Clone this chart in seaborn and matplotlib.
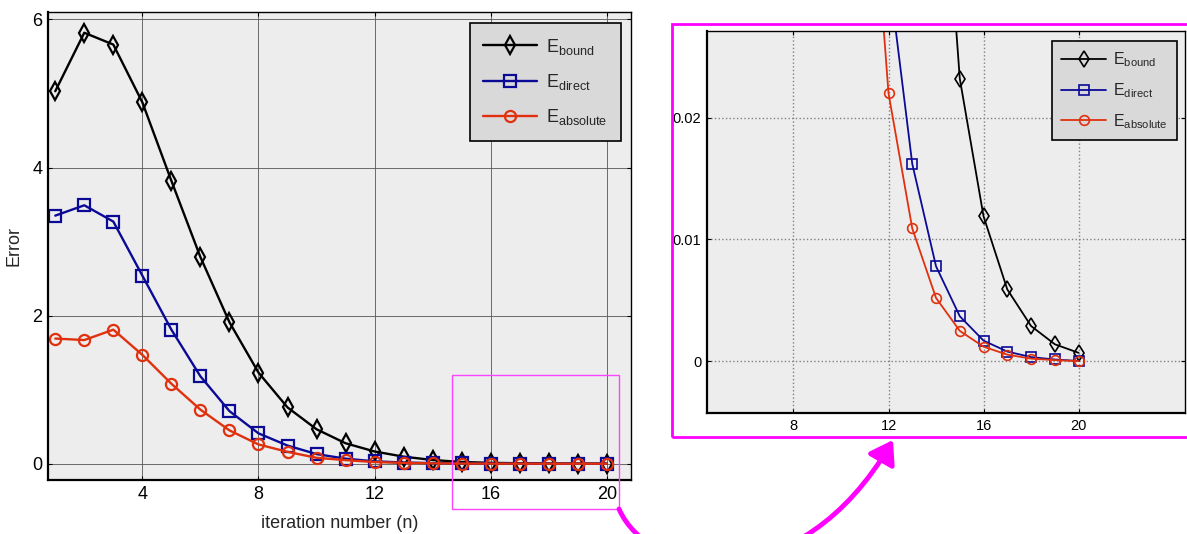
import numpy as np
import matplotlib
matplotlib.use('Agg')
import matplotlib.pyplot as plt
import seaborn as sns
from matplotlib.patches import Rectangle, FancyArrowPatch
from matplotlib.path import Path

# ── Data ─────────────────────────────────────────────────────────────────────
n_iter = list(range(1, 21))
e_bound = [5.03, 5.82, 5.66, 4.88, 3.82, 2.79, 1.91, 1.23, 0.76, 0.465,
           0.276, 0.165, 0.095, 0.050, 0.0232, 0.0119, 0.0059, 0.0029,
           0.0014, 0.0007]
e_direct = [3.35, 3.49, 3.27, 2.54, 1.81, 1.18, 0.71, 0.41, 0.245, 0.13,
            0.068, 0.032, 0.0162, 0.0078, 0.0037, 0.0017, 0.0008, 0.00035,
            0.00015, 0.00003]
e_absolute = [1.69, 1.67, 1.81, 1.47, 1.08, 0.73, 0.45, 0.26, 0.16, 0.08,
              0.048, 0.022, 0.0109, 0.0052, 0.0025, 0.0012, 0.00055, 0.00022,
              0.0001, 0.00002]
labels = [r'$\mathregular{E_{bound}}$', r'$\mathregular{E_{direct}}$',
          r'$\mathregular{E_{absolute}}$']

main_xticks = [4, 8, 12, 16, 20]
main_yticks = [0, 2, 4, 6]
zoom_xticks = [8, 12, 16, 20]
zoom_yticks = [0, 0.01, 0.02]
zoom_yticklabels = ['0', '0.01', '0.02']

# ── Style ───────────────────────────────────────────────────────────────────
COLORS = {'bound': '#000000', 'direct': '#0A0A96', 'absolute': '#E0300E'}
MAGENTA = '#FF00FF'
AX_BG = '#EDEDED'
LEG_BG = '#D9D9D9'

sns.set_style('ticks')
plt.rcParams['font.family'] = ['Liberation Sans Narrow', 'Liberation Sans', 'DejaVu Sans']
plt.rcParams['mathtext.default'] = 'regular'

W, H = 1187, 534
fig = plt.figure(figsize=(W / 100, H / 100), dpi=100)


def fx(px):
    return px / W


def fy(py):
    return 1 - py / H


def style_axes(ax, fontsize, grid_color, grid_ls, grid_lw):
    ax.set_facecolor(AX_BG)
    ax.grid(True, color=grid_color, linestyle=grid_ls, linewidth=grid_lw)
    ax.set_axisbelow(True)
    for side in ['left', 'bottom']:
        ax.spines[side].set_linewidth(1.6)
        ax.spines[side].set_color('black')
    for side in ['top', 'right']:
        ax.spines[side].set_visible(True)
        ax.spines[side].set_linewidth(1.0)
        ax.spines[side].set_color('black')
    ax.tick_params(direction='in', length=3, width=0.8, top=True, right=True,
                   labelsize=fontsize, colors='black', pad=4)


def draw_series(ax, lw, ms, mew):
    sns.lineplot(x=n_iter, y=e_bound, ax=ax, color=COLORS['bound'], lw=lw,
                 marker='d', markersize=ms + 1, markerfacecolor='none',
                 markeredgecolor=COLORS['bound'], markeredgewidth=mew,
                 label=labels[0])
    sns.lineplot(x=n_iter, y=e_direct, ax=ax, color=COLORS['direct'], lw=lw,
                 marker='s', markersize=ms, markerfacecolor='none',
                 markeredgecolor=COLORS['direct'], markeredgewidth=mew,
                 label=labels[1])
    sns.lineplot(x=n_iter, y=e_absolute, ax=ax, color=COLORS['absolute'], lw=lw,
                 marker='o', markersize=ms, markerfacecolor='none',
                 markeredgecolor=COLORS['absolute'], markeredgewidth=mew,
                 label=labels[2])


# ── Main plot ───────────────────────────────────────────────────────────────
ax = fig.add_axes([fx(48), fy(480), (631 - 48) / W, (480 - 12) / H])
style_axes(ax, 13, '#555555', '-', 0.6)
draw_series(ax, 1.7, 8, 1.6)
ax.set_xlim(0.75, 20.83)
ax.set_ylim(-0.22, 6.1)
ax.set_xticks(main_xticks)
ax.set_yticks(main_yticks)
ax.set_xlabel('iteration number (n)', fontsize=13, labelpad=9)
ax.set_ylabel('Error', fontsize=13, labelpad=7)
leg = ax.legend(loc='upper right', bbox_to_anchor=(0.983, 0.976),
                borderaxespad=0, fontsize=13, handlelength=3.0,
                handletextpad=0.5, labelspacing=0.85, fancybox=False,
                framealpha=1, facecolor=LEG_BG, edgecolor='black',
                borderpad=0.75)
leg.get_frame().set_linewidth(1.2)

# ── Zoomed plot ─────────────────────────────────────────────────────────────
axz = fig.add_axes([fx(707), fy(413), (1185 - 707) / W, (413 - 30.7) / H])
style_axes(axz, 10.5, '#808080', ':', 1.0)
draw_series(axz, 1.3, 7, 1.2)
axz.set_xlim(4.36, 24.48)
axz.set_ylim(-0.00424, 0.02713)
axz.set_xticks(zoom_xticks)
axz.set_yticks(zoom_yticks)
axz.set_yticklabels(zoom_yticklabels)
axz.set_xlabel('')
axz.set_ylabel('')
legz = axz.legend(loc='upper right', bbox_to_anchor=(0.983, 0.973),
                  borderaxespad=0, fontsize=11.5, handlelength=2.8,
                  handletextpad=0.4, labelspacing=0.75, fancybox=False,
                  framealpha=1, facecolor=LEG_BG, edgecolor='black',
                  borderpad=0.6)
legz.get_frame().set_linewidth(1.2)

# ── Magenta annotations ─────────────────────────────────────────────────────
fig.patches.append(Rectangle((fx(452), fy(509)), (619 - 452) / W, (509 - 375) / H,
                             transform=fig.transFigure, fill=False,
                             edgecolor='#FF44FF', lw=1.0))
fig.patches.append(Rectangle((fx(672), fy(436.6)), (1200 - 672) / W, (436.6 - 23.8) / H,
                             transform=fig.transFigure, fill=False,
                             edgecolor=MAGENTA, lw=2.0, clip_on=False))

arrow_pts = [(619, 509), (650, 580), (800, 600), (893, 440)]
arrow_path = Path([(fx(x), fy(y)) for x, y in arrow_pts],
                  [Path.MOVETO, Path.CURVE4, Path.CURVE4, Path.CURVE4])
arrow = FancyArrowPatch(path=arrow_path, transform=fig.transFigure,
                        arrowstyle='-|>,head_length=0.9,head_width=0.6',
                        mutation_scale=15, color=MAGENTA, lw=3.5,
                        shrinkA=0, shrinkB=0)
fig.patches.append(arrow)

fig.savefig('out.png', dpi=100)
